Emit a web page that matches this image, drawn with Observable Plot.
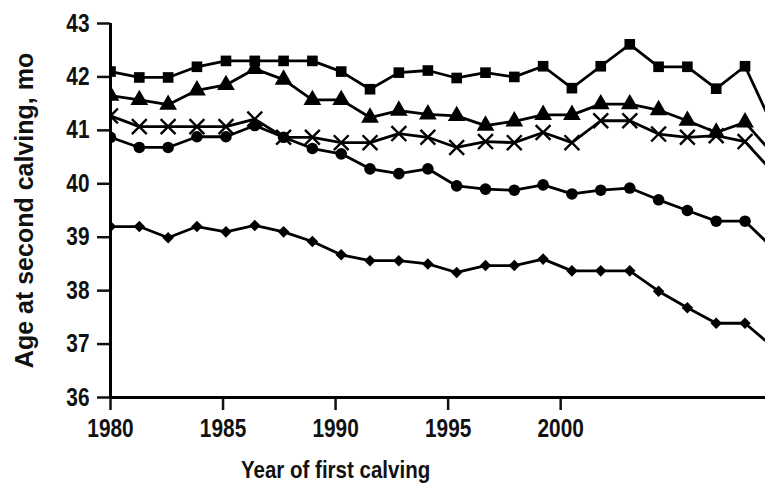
<!DOCTYPE html>
<html>
<head>
<meta charset="utf-8">
<script src="https://cdn.jsdelivr.net/npm/d3@7"></script>
<script src="https://cdn.jsdelivr.net/npm/@observablehq/plot@0.6"></script>
<style>
  html, body { margin: 0; padding: 0; background: #fff; }
  #chart { width: 765px; height: 487px; }
</style>
</head>
<body>
<div id="chart"></div>
<script>
// x positions of the markers, read against the printed year axis
const years = [1980.00, 1981.28, 1982.56, 1983.84, 1985.13, 1986.41, 1987.69, 1988.97,
  1990.25, 1991.53, 1992.81, 1994.10, 1995.38, 1996.66, 1997.94, 1999.22,
  2000.50, 2001.78, 2003.07, 2004.35, 2005.63, 2006.91, 2008.19, 2009.47];

const squareSeries   = [42.10, 41.99, 41.99, 42.19, 42.30, 42.30, 42.30, 42.30, 42.10, 41.77, 42.08, 42.12,
  41.98, 42.08, 42.00, 42.20, 41.79, 42.20, 42.61, 42.19, 42.19, 41.78, 42.20, 41.04];
const triangleSeries = [41.65, 41.57, 41.48, 41.75, 41.85, 42.15, 41.95, 41.57, 41.57, 41.24, 41.37, 41.30,
  41.27, 41.09, 41.17, 41.29, 41.29, 41.49, 41.49, 41.38, 41.18, 40.96, 41.15, 40.54];
const crossSeries    = [41.27, 41.07, 41.07, 41.07, 41.07, 41.21, 40.87, 40.87, 40.77, 40.77, 40.94, 40.87,
  40.68, 40.79, 40.77, 40.96, 40.77, 41.18, 41.18, 40.93, 40.87, 40.90, 40.79, 40.20];
const circleSeries   = [40.87, 40.68, 40.68, 40.88, 40.88, 41.09, 40.87, 40.66, 40.56, 40.28, 40.19, 40.28,
  39.96, 39.90, 39.88, 39.98, 39.81, 39.88, 39.92, 39.70, 39.50, 39.30, 39.30, 38.78];
const diamondSeries  = [39.20, 39.20, 38.99, 39.20, 39.10, 39.22, 39.10, 38.92, 38.67, 38.56, 38.56, 38.50,
  38.34, 38.47, 38.47, 38.59, 38.37, 38.37, 38.37, 37.99, 37.68, 37.39, 37.39, 36.93];

const xTicks = [1980, 1985, 1990, 1995, 2000];
const yTicks = [36, 37, 38, 39, 40, 41, 42, 43];
const xTitle = "Year of first calving";
const yTitle = "Age at second calving, mo";

const seriesList = [
  {name: "square", values: squareSeries},
  {name: "triangle", values: triangleSeries},
  {name: "cross", values: crossSeries},
  {name: "circle", values: circleSeries},
  {name: "diamond", values: diamondSeries}
];
const data = seriesList.flatMap(s => s.values.map((v, i) => ({series: s.name, year: years[i], value: v})));
const of = name => data.filter(d => d.series === name);

const chart = Plot.plot({
  width: 765,
  height: 487,
  marginLeft: 110,
  marginRight: 0,
  marginTop: 23,
  marginBottom: 90,
  style: {fontFamily: "'Liberation Sans', Arial, sans-serif", fontWeight: "bold", fontSize: "25px", color: "#111", background: "#fff"},
  x: {domain: [1980, 2009.1]},
  y: {domain: [36, 43]},
  marks: [
    Plot.axisX(xTicks, {tickSize: 13, tickPadding: 9, strokeWidth: 2.5, tickFormat: d => String(d), label: null}),
    Plot.axisY(yTicks, {tickSize: 13, tickPadding: 8, strokeWidth: 2.5, tickFormat: d => String(d), label: null}),
    Plot.ruleX([1980], {y1: 36, y2: 43, stroke: "#000", strokeWidth: 3}),
    Plot.ruleY([36], {stroke: "#000", strokeWidth: 3}),
    Plot.line(data, {x: "year", y: "value", z: "series", stroke: "#000", strokeWidth: 2.8, clip: true}),
    Plot.dot(of("square"), {x: "year", y: "value", symbol: "square", fill: "#000", r: 6.0, clip: true}),
    Plot.dot(of("triangle"), {x: "year", y: "value", symbol: "triangle", fill: "#000", r: 6.6, clip: true}),
    Plot.dot(of("cross"), {x: "year", y: "value", symbol: "times", stroke: "#000", strokeWidth: 2.4, r: 6.8, clip: true}),
    Plot.dot(of("circle"), {x: "year", y: "value", symbol: "circle", fill: "#000", r: 5.8, clip: true}),
    Plot.dot(of("diamond"), {x: "year", y: "value", symbol: "diamond2", fill: "#000", r: 5.2, clip: true}),
    Plot.text([xTitle], {x: 1990, y: 36, dy: 73, text: d => d, fontSize: 24, fontWeight: "bold", fill: "#111"}),
    Plot.text([yTitle], {x: 1980, y: 39.5, dx: -86, rotate: -90, text: d => d, fontSize: 25, fontWeight: "bold", fill: "#111"})
  ]
});
document.getElementById("chart").appendChild(chart);

// the reference's lettering is narrower than its height: compress glyph widths
function narrow(el, factor) {
  const w = el.getComputedTextLength();
  if (w > 0) {
    el.setAttribute("textLength", (w / factor).toFixed(2));
    el.setAttribute("lengthAdjust", "spacingAndGlyphs");
  }
}
d3.select(chart).selectAll("g[aria-label$='tick label'] text").each(function() { narrow(this, 1.2); });
d3.select(chart).selectAll("text").filter(function() { return this.textContent === xTitle; })
  .each(function() { narrow(this, 1.17); });
</script>
</body>
</html>
